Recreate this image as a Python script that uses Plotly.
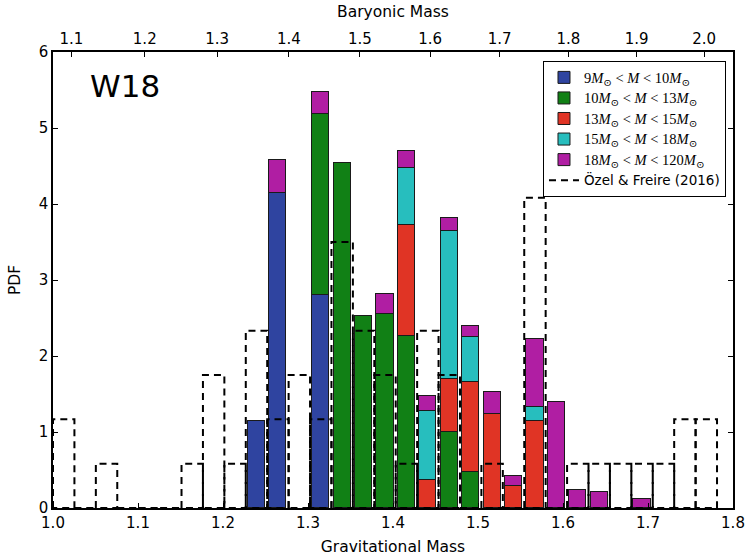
import numpy as np
import plotly.graph_objects as go

# ---------------- data ----------------
bin_start = 1.0
bin_width = 0.0252
n_bins = 31

# stacked PDF segments per bin index (bottom -> top)
bin_index = [9, 10, 12, 13, 14, 15, 16, 17, 18, 19, 20, 21, 22, 23, 24, 25, 27]
pdf_9_10 = [1.145, 4.15, 2.80, None, None, None, None, None, None, None, None, None, None, None, None, None, None]
pdf_10_13 = [None, None, 2.38, 4.545, 2.52, 2.55, 2.26, None, 1.00, 0.48, None, None, None, None, None, None, None]
pdf_13_15 = [None, None, None, None, None, None, 1.47, 0.365, 0.70, 1.18, 1.24, 0.285, 1.145, None, None, None, None]
pdf_15_18 = [None, None, None, None, None, None, 0.75, 0.905, 1.94, 0.59, None, None, 0.18, None, None, None, None]
pdf_18_120 = [None, 0.43, 0.29, None, None, 0.27, 0.22, 0.20, 0.17, 0.15, 0.28, 0.13, 0.905, 1.39, 0.24, 0.21, 0.115]

# Özel & Freire (2016) histogram, bins 0..30
ozel_pdf = [1.167, 0, 0.583, 0, 0, 0, 0.583, 1.75, 0.583, 2.333, 1.167, 1.75, 1.167, 3.5, 2.333, 1.75,
            0.583, 2.333, 1.75, 0, 0.583, 0, 4.083, 0, 0.583, 0.583, 0.583, 0.583, 0.583, 1.167, 1.167]

series_names = [
    '9<i>M</i><sub>⊙</sub> &lt; <i>M</i> &lt; 10<i>M</i><sub>⊙</sub>',
    '10<i>M</i><sub>⊙</sub> &lt; <i>M</i> &lt; 13<i>M</i><sub>⊙</sub>',
    '13<i>M</i><sub>⊙</sub> &lt; <i>M</i> &lt; 15<i>M</i><sub>⊙</sub>',
    '15<i>M</i><sub>⊙</sub> &lt; <i>M</i> &lt; 18<i>M</i><sub>⊙</sub>',
    '18<i>M</i><sub>⊙</sub> &lt; <i>M</i> &lt; 120<i>M</i><sub>⊙</sub>',
]
series_colors = ['#2f44a0', '#118015', '#e03425', '#27bebe', '#b01ea3']
ozel_name = 'Özel & Freire (2016)'

baryonic_labels = ['1.1', '1.2', '1.3', '1.4', '1.5', '1.6', '1.7', '1.8', '1.9', '2.0']
grav_ticks = [1.0, 1.1, 1.2, 1.3, 1.4, 1.5, 1.6, 1.7, 1.8]
y_ticks = [0, 1, 2, 3, 4, 5, 6]

# ---------------- figure ----------------
edges = bin_start + bin_width * np.arange(n_bins + 1)
centers = [float(edges[k] + bin_width / 2) for k in bin_index]

fig = go.Figure()
serif = 'font-family:Liberation Serif, DejaVu Serif, serif;font-size:14.5px'
for name, vals, col in zip(series_names,
                           [pdf_9_10, pdf_10_13, pdf_13_15, pdf_15_18, pdf_18_120],
                           series_colors):
    fig.add_trace(go.Bar(
        x=centers, y=vals, width=0.8 * bin_width,
        name=f'<span style="{serif}">{name}</span>',
        marker=dict(color=col, line=dict(color='#1a1a1a', width=1)),
        xaxis='x', yaxis='y'))

# dashed outline histogram
ox, oy = [], []
for k, h in enumerate(ozel_pdf):
    a, b = float(edges[k]), float(edges[k + 1])
    ox += [a, a, b, b, a, None]
    oy += [0, h, h, 0, 0, None]
fig.add_trace(go.Scatter(x=ox, y=oy, mode='lines', name=ozel_name,
                         line=dict(color='black', width=2, dash='7px,5px'),
                         xaxis='x', yaxis='y'))

# baryonic-mass positions on the gravitational axis: M_b = M_g + 0.075 M_g^2
bary_vals = np.array([float(s) for s in baryonic_labels])
bary_pos = (-1 + np.sqrt(1 + 0.3 * bary_vals)) / 0.15

font_main = 'DejaVu Sans'
fig.update_layout(
    width=745, height=559,
    margin=dict(l=53, r=12, t=52, b=51),
    paper_bgcolor='white', plot_bgcolor='white',
    barmode='stack', bargap=0,
    font=dict(family=font_main, size=15, color='black'),
    showlegend=True,
    legend=dict(x=0.9897, y=0.98, xanchor='right', yanchor='top', traceorder='normal',
                bgcolor='white', bordercolor='black', borderwidth=1,
                font=dict(family=font_main, size=13.5), tracegroupgap=0,
                itemwidth=30),
    xaxis=dict(range=[1.0, 1.8], tickvals=grav_ticks, ticktext=[f'{v:.1f}' for v in grav_ticks],
               ticks='inside', ticklen=5, tickwidth=1, tickcolor='black',
               showline=True, linecolor='black', linewidth=1.5, mirror=False,
               showgrid=False, zeroline=False, automargin=False, ticklabeloverflow='allow',
               title=dict(text='Gravitational Mass', font=dict(size=15.5), standoff=10)),
    xaxis2=dict(range=[1.0, 1.8], overlaying='x', side='top', anchor='y',
                tickvals=[float(v) for v in bary_pos], ticktext=baryonic_labels,
                ticks='inside', ticklen=5, tickwidth=1, tickcolor='black',
                showline=True, linecolor='black', linewidth=1.5,
                showgrid=False, zeroline=False, automargin=False,
                title=dict(text='Baryonic Mass', font=dict(size=15.5), standoff=9)),
    yaxis=dict(range=[0, 6], tickvals=y_ticks, ticktext=[str(v) for v in y_ticks],
               ticks='inside', ticklen=5, tickwidth=1, tickcolor='black',
               showline=True, linecolor='black', linewidth=1.5, mirror='ticks',
               showgrid=False, zeroline=False, automargin=False,
               title=dict(text='PDF', font=dict(size=15.5), standoff=14)),
)
# invisible trace to activate the top axis
fig.add_trace(go.Scatter(x=[1.0], y=[0], xaxis='x2', yaxis='y', mode='markers',
                         marker=dict(opacity=0), showlegend=False, hoverinfo='skip'))

fig.add_annotation(text='W18', x=1.041, y=5.55, xref='x', yref='y', xanchor='left', yanchor='middle',
                   showarrow=False, font=dict(family=font_main, size=31, color='black'))

fig.write_html('out.html', config={'displayModeBar': False},
               post_script="document.body.style.margin='0';document.documentElement.style.overflow='hidden';")
